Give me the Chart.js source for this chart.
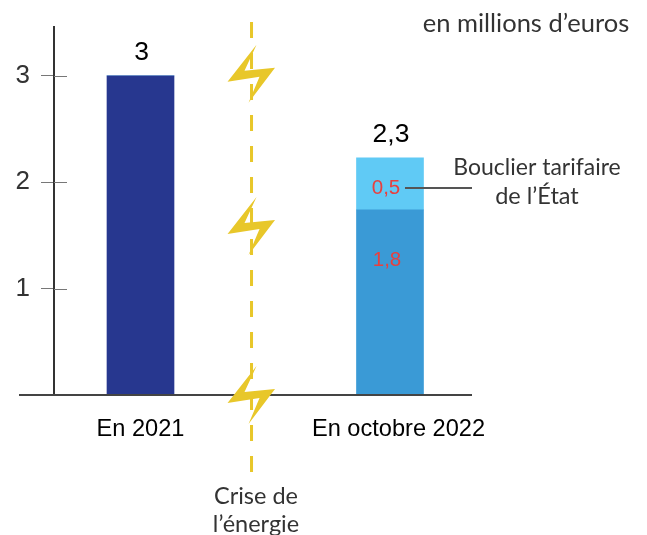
<!DOCTYPE html>
<html lang="fr">
<head>
<meta charset="utf-8">
<title>Bouclier tarifaire</title>
<script src="https://cdn.jsdelivr.net/npm/chart.js@4"></script>
<style>
  html, body { margin: 0; padding: 0; background: #fff; }
  canvas { display: block; }
</style>
</head>
<body>
<canvas id="chart" width="647" height="535"></canvas>
<script>
const categories = ['En 2021', 'En octobre 2022'];
const categoryPositions = [0, 1];
// the second axis label sits a little right of its bar in the picture
const labelPositions = [0, 1.034];
// bar heights as drawn in the picture (the printed labels are rounded differently)
const baseValues = [3, 1.74];
const shieldValues = [0, 0.49];
const totalLabels = ['3', '2,3'];
const baseLabels = [null, '1,8'];
const shieldLabels = [null, '0,5'];
const yTicks = [1, 2, 3];
const crisisPosition = 0.445;
const boltLevels = [3.02, 1.59, 0];

const avenirLike = 'Lato, "Open Sans", sans-serif';
const arialLike = '"Liberation Sans", Arial, sans-serif';
const yellow = '#e8c72a';

function bolt(ctx, cx, cy) {
  const shape = [[5, -29], [-24, 8], [8, 3], [-3, 29], [23.5, -6], [-7, -3]];
  ctx.beginPath();
  shape.forEach((p, i) => i ? ctx.lineTo(cx + p[0], cy + p[1]) : ctx.moveTo(cx + p[0], cy + p[1]));
  ctx.closePath();
  ctx.fillStyle = yellow;
  ctx.fill();
}

function label(ctx, text, x, y, font, color) {
  ctx.font = font;
  ctx.fillStyle = color;
  ctx.textAlign = 'center';
  ctx.textBaseline = 'middle';
  ctx.fillText(text, x, y);
}

const annotations = {
  id: 'annotations',
  afterDatasetsDraw(chart) {
    const {ctx, scales: {x, y}} = chart;
    const base = y.getPixelForValue(0);
    const crisisX = x.getPixelForValue(crisisPosition);
    ctx.save();

    // baseline runs past the y axis on the left
    ctx.strokeStyle = '#444';
    ctx.lineWidth = 2;
    ctx.beginPath();
    ctx.moveTo(19, base);
    ctx.lineTo(x.right, base);
    ctx.stroke();

    // right half of the y ticks
    ctx.strokeStyle = '#777';
    ctx.lineWidth = 1;
    yTicks.forEach(v => {
      const py = Math.round(y.getPixelForValue(v)) + 0.5;
      ctx.beginPath();
      ctx.moveTo(x.left, py);
      ctx.lineTo(x.left + 13, py);
      ctx.stroke();
    });

    // crisis line
    ctx.strokeStyle = yellow;
    ctx.lineWidth = 3;
    ctx.setLineDash([16, 15]);
    ctx.beginPath();
    ctx.moveTo(crisisX, 22);
    ctx.lineTo(crisisX, 478);
    ctx.stroke();
    ctx.setLineDash([]);
    boltLevels.forEach(v => bolt(ctx, crisisX, y.getPixelForValue(v)));

    // values
    const baseBars = chart.getDatasetMeta(0).data;
    const shieldBars = chart.getDatasetMeta(1).data;
    categories.forEach((c, i) => {
      const cx = x.getPixelForValue(categoryPositions[i]);
      const top = y.getPixelForValue(baseValues[i] + shieldValues[i]);
      label(ctx, totalLabels[i], cx + 1, top - 23, '26.5px ' + arialLike, '#000');
      if (baseLabels[i]) {
        label(ctx, baseLabels[i], cx - 3, baseBars[i].y + 50, '20.5px ' + arialLike, '#e8403f');
      }
      if (shieldLabels[i]) {
        const mid = (shieldBars[i].y + shieldBars[i].base) / 2;
        label(ctx, shieldLabels[i], cx - 4, mid + 4, '20.5px ' + arialLike, '#e8403f');
        ctx.strokeStyle = '#555';
        ctx.lineWidth = 2;
        ctx.beginPath();
        ctx.moveTo(cx + 15, mid + 4);
        ctx.lineTo(x.right, mid + 4);
        ctx.stroke();
      }
    });

    // texts
    label(ctx, 'en millions d’euros', 526, 24, '25.5px ' + avenirLike, '#333');
    label(ctx, 'Bouclier tarifaire', 537, 168, '23px ' + avenirLike, '#333');
    label(ctx, 'de l’État', 537, 196, '23.5px ' + avenirLike, '#333');
    label(ctx, 'Crise de', 256, 496, '23.5px ' + avenirLike, '#333');
    label(ctx, 'l’énergie', 256, 524, '23.5px ' + avenirLike, '#333');
    ctx.restore();
  }
};

new Chart(document.getElementById('chart'), {
  type: 'bar',
  data: {
    datasets: [
      {
        data: categoryPositions.map((p, i) => ({x: p, y: baseValues[i]})),
        backgroundColor: ['#27378f', '#3a9ad6']
      },
      {
        data: categoryPositions.map((p, i) => ({x: p, y: shieldValues[i]})),
        backgroundColor: '#60caf5'
      }
    ]
  },
  plugins: [annotations],
  options: {
    responsive: false,
    animation: false,
    barThickness: 67,
    layout: {padding: {top: 27, right: 175, left: 0, bottom: 0}},
    plugins: {legend: {display: false}, tooltip: {enabled: false}},
    scales: {
      x: {
        type: 'linear',
        offset: false,
        stacked: true,
        min: -0.3467,
        max: 1.3287,
        afterBuildTicks: axis => { axis.ticks = labelPositions.map(p => ({value: p})); },
        afterFit: axis => { axis.height = 140; },
        grid: {display: false},
        border: {display: false},
        ticks: {
          autoSkip: false,
          maxRotation: 0,
          padding: 12,
          color: '#000',
          font: {family: arialLike, size: 23.6},
          callback: v => categories[labelPositions.indexOf(v)]
        }
      },
      y: {
        stacked: true,
        min: 0,
        max: 3.46,
        afterBuildTicks: axis => { axis.ticks = yTicks.map(v => ({value: v})); },
        afterFit: axis => { axis.width = 54; },
        grid: {drawOnChartArea: false, tickLength: 13, tickColor: '#777', tickWidth: 1},
        border: {color: '#333', width: 2},
        ticks: {
          padding: 11,
          color: '#333',
          font: {family: arialLike, size: 26}
        }
      }
    }
  }
});
</script>
</body>
</html>
